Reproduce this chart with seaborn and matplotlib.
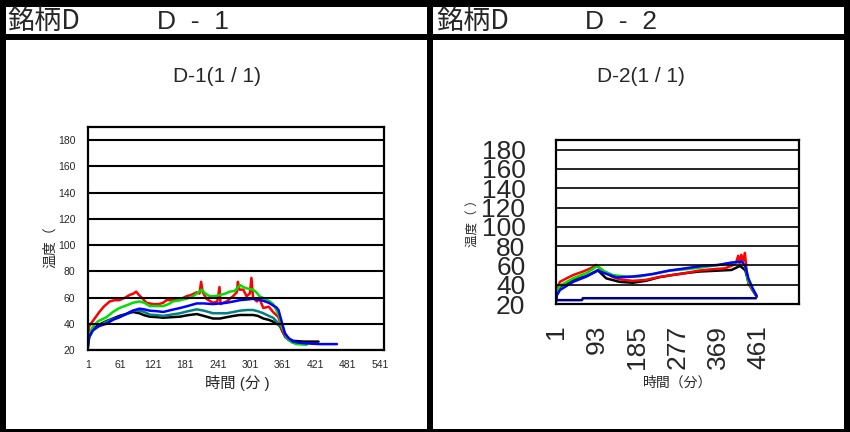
import pandas as pd
import matplotlib.pyplot as plt
import matplotlib.patches as mpatches
import seaborn as sns

# ---- D-1 readings (time in minutes, temperature) ----
d1_red_t = [1, 3, 8, 15, 22, 30, 41, 50, 59, 70, 78, 85, 90, 95, 100, 109, 121, 132, 140, 146,
            160, 171, 178, 183, 192, 202, 207, 210, 213, 220, 232, 240, 244, 246, 257, 269, 276, 278, 281, 288,
            294, 300, 303, 306, 313, 318, 325, 335, 343, 353, 359, 365, 372, 380, 390, 400]
d1_red_v = [30, 38, 41, 45, 49, 53, 57, 58, 58, 60, 62, 63, 64.5, 62, 60, 56, 55, 55, 56, 58,
            58, 58, 60, 61, 62, 64, 63, 72, 64, 59, 56, 57, 68, 55, 57, 61, 64, 72, 66, 66,
            61, 63, 75, 60, 57, 59, 52, 53, 49, 45, 36, 31, 28, 26, 25, 24.5]

d1_green_t = [1, 4, 10, 20, 35, 47, 59, 72, 84, 96, 105, 115, 130, 140, 150, 158, 170, 183, 195, 202,
              211, 218, 226, 235, 245, 255, 263, 272, 282, 288, 294, 306, 312, 318, 328, 337, 343, 349, 355, 359,
              368, 377, 386, 405]
d1_green_v = [25, 32, 38, 42, 45, 49, 52, 54, 56, 57, 56, 53.5, 53.5, 53.5, 55, 57, 58, 59, 61, 63,
              66, 63, 61, 61, 62, 63, 64.5, 65, 69.5, 68, 67, 66, 64, 61, 59, 57, 55, 50.5, 45, 38,
              30, 26, 24.5, 24]

d1_blue_t = [1, 3, 10, 20, 35, 47, 59, 72, 84, 96, 105, 115, 130, 140, 155, 171, 185, 202, 215, 232,
             245, 257, 270, 282, 295, 306, 315, 325, 335, 343, 349, 353, 359, 365, 372, 380, 392, 405, 430, 461]
d1_blue_v = [22, 30, 35, 38, 40, 43, 45, 47.5, 50, 51.5, 51, 50, 49.5, 49, 50.5, 52, 53.5, 55.5, 55.5, 55,
             55.5, 56, 57, 58, 58.5, 59, 58.5, 57.5, 56, 54, 52.5, 50.5, 41.5, 32.7, 29, 26.4, 25.5, 25, 24.5, 24.5]

d1_teal_t = [1, 3, 10, 20, 35, 47, 59, 72, 84, 96, 105, 115, 130, 140, 155, 171, 185, 202, 215, 232,
             245, 257, 270, 282, 295, 306, 315, 325, 335, 343, 349, 355, 359, 365, 372, 380, 392, 405]
d1_teal_v = [23, 29, 35, 38, 41.6, 43.5, 45, 47.5, 50, 50, 49, 47, 46.5, 46, 47, 48, 49.5, 51, 50, 48,
             48, 48, 49, 50, 50.5, 50.5, 49.5, 48, 46, 44.6, 42, 38, 36.5, 30, 27.5, 25.6, 25, 24.5]

d1_black_t = [1, 3, 10, 20, 35, 47, 59, 72, 84, 96, 105, 115, 130, 140, 155, 171, 185, 202, 215, 232,
              245, 257, 270, 282, 295, 306, 315, 325, 335, 343, 349, 355, 362, 370, 380, 400, 427]
d1_black_v = [27, 31, 36, 39, 42, 44, 46, 47.5, 49, 48, 46.5, 45.4, 45, 44.6, 45, 45.4, 46.5, 47.4, 46, 44,
              44, 45, 46, 46.7, 46.7, 46.7, 46, 44, 43, 41.6, 40, 39, 32.7, 29, 27, 26.4, 26.4]

# ---- D-2 readings ----
d2_red_t = [1, 3, 10, 25, 40, 62, 80, 92, 100, 115, 130, 145, 175, 205, 235, 265, 295, 325, 355, 385,
            404, 410, 415, 418, 422, 426, 430, 434, 438, 445, 453, 457]
d2_red_v = [31, 36, 43, 46.6, 50, 53.6, 57, 60.5, 57, 52, 48, 45.6, 44, 45, 48, 50, 52, 54.6, 56, 57,
            60.5, 63, 70, 62, 71, 64, 73, 55, 41, 36, 31, 27.6]

d2_green_t = [1, 3, 10, 40, 70, 96, 108, 130, 160, 190, 220, 258, 295, 333, 370, 408, 423, 431, 438, 448, 457]
d2_green_v = [28, 33, 39, 46.6, 52, 59.5, 54.6, 50, 48.4, 48.4, 51, 54.6, 56, 58, 60.5, 63, 64, 58.8, 43, 35, 28.3]

d2_blue_t = [1, 3, 10, 40, 70, 96, 108, 138, 175, 220, 258, 295, 333, 370, 400, 423, 431, 438, 448, 457]
d2_blue_v = [22, 29, 34.5, 43, 48.4, 54.6, 52.5, 47.6, 48.4, 51, 54.6, 57, 59.5, 60.5, 63, 64, 59, 46.6, 36, 28.3]

d2_black_t = [1, 3, 10, 40, 70, 96, 115, 145, 175, 205, 235, 265, 295, 325, 370, 400, 419, 431, 438, 448, 457]
d2_black_v = [25, 30, 38, 45, 49, 55, 46.6, 43, 42, 44, 47.7, 50, 52, 53.6, 54.6, 55.3, 59.5, 55, 43, 34, 27.6]

d2_navy_t = [1, 60, 62, 200, 350, 455]
d2_navy_v = [24, 24, 26, 26, 26, 26]

y_ticks = [20, 40, 60, 80, 100, 120, 140, 160, 180]
d1_xticks = [1, 61, 121, 181, 241, 301, 361, 421, 481, 541]
d2_xlabels = [1, 93, 185, 277, 369, 461]
d2_xmarks = [61, 121, 181, 241, 301, 361, 421, 481, 541]

colors = {"red": "#ff0000", "green": "#00e000", "blue": "#0000ff",
          "teal": "#008080", "black": "#000000", "navy": "#000080"}


def long_frame(parts):
    frames = []
    for name, t, v in parts:
        frames.append(pd.DataFrame({"time": t, "temp": v, "sensor": name}))
    return pd.concat(frames, ignore_index=True)


df1 = long_frame([("black", d1_black_t, d1_black_v), ("teal", d1_teal_t, d1_teal_v),
                  ("red", d1_red_t, d1_red_v), ("green", d1_green_t, d1_green_v),
                  ("blue", d1_blue_t, d1_blue_v)])
df2 = long_frame([("navy", d2_navy_t, d2_navy_v), ("black", d2_black_t, d2_black_v),
                  ("red", d2_red_t, d2_red_v), ("green", d2_green_t, d2_green_v),
                  ("blue", d2_blue_t, d2_blue_v)])

sns.set_style("white")
plt.rcParams['font.family'] = ['Liberation Sans', 'Noto Sans CJK JP', 'DejaVu Sans']

W, H = 850, 432
fig = plt.figure(figsize=(8.5, 4.32), dpi=100)


def box(x0, y0, x1, y1):
    # pixel box (top-left origin) -> figure rectangle
    fig.add_artist(mpatches.Rectangle((x0 / W, 1 - y1 / H), (x1 - x0) / W, (y1 - y0) / H,
                                      transform=fig.transFigure, color="black", lw=0))


def axes_px(x0, y0, x1, y1):
    return fig.add_axes([x0 / W, 1 - y1 / H, (x1 - x0) / W, (y1 - y0) / H])


# frame borders
box(0, 0, 850, 7)
box(0, 34, 850, 40)
box(0, 0, 6, 432)
box(427, 0, 433, 432)
box(844, 0, 850, 432)
box(0, 429, 850, 432)

cjk = ['Noto Sans CJK JP', 'Liberation Sans']
fig.text(7 / W, 1 - 22 / H, "銘柄D", family=cjk, fontsize=19.5, va="center")
fig.text(157 / W, 1 - 22 / H, "D  -  1", fontsize=19, va="center")
fig.text(436 / W, 1 - 22 / H, "銘柄D", family=cjk, fontsize=19.5, va="center")
fig.text(585 / W, 1 - 22 / H, "D  -  2", fontsize=19, va="center")

fig.text(217 / W, 1 - 76 / H, "D-1(1 / 1)", fontsize=15, ha="center", va="center")
fig.text(641 / W, 1 - 76 / H, "D-2(1 / 1)", fontsize=15, ha="center", va="center")

# ---- left chart ----
ax1 = axes_px(88, 127, 384, 350)
sns.lineplot(data=df1, x="time", y="temp", hue="sensor", palette=colors,
             hue_order=["black", "teal", "red", "green", "blue"],
             estimator=None, sort=False, legend=False, lw=1.8, ax=ax1)
ax1.set_xlim(1, 548)
ax1.set_ylim(20, 190)
ax1.set_yticks(y_ticks)
ax1.set_xticks(d1_xticks)
ax1.set_xticklabels([str(v) for v in d1_xticks])
ax1.tick_params(axis="x", direction="in", length=4, width=1.5, labelsize=7.5, pad=7)
ax1.tick_params(axis="y", length=0, labelsize=7.5, pad=9)
ax1.grid(axis="y", color="black", lw=1.5)
ax1.set_axisbelow(False)
for s in ax1.spines.values():
    s.set_color("black")
    s.set_linewidth(1.6)
ax1.set_xlabel("")
ax1.set_ylabel("")
fig.text(237 / W, 1 - 383 / H, "時間 (分 )", fontsize=11, ha="center", va="center")
fig.text(50 / W, 1 - 247 / H, "温度（", fontsize=10, ha="center", va="center", rotation=90)

# ---- right chart ----
ax2 = axes_px(556, 140, 799, 304)
sns.lineplot(data=df2, x="time", y="temp", hue="sensor", palette=colors,
             hue_order=["navy", "black", "red", "green", "blue"],
             estimator=None, sort=False, legend=False, lw=1.8, ax=ax2)
ax2.set_xlim(1, 553)
ax2.set_ylim(20, 190)
ax2.set_yticks(y_ticks)
ax2.set_xticks(d2_xlabels)
ax2.set_xticklabels([str(v) for v in d2_xlabels], rotation=90)
ax2.set_xticks(d2_xmarks, minor=True)
ax2.tick_params(axis="x", which="major", length=0, labelsize=19, pad=15)
ax2.tick_params(axis="x", which="minor", direction="in", length=7, width=1.5)
ax2.tick_params(axis="y", length=0, labelsize=19, pad=22)
ax2.grid(axis="y", color="black", lw=1.2)
ax2.set_axisbelow(False)
for s in ax2.spines.values():
    s.set_color("black")
    s.set_linewidth(1.6)
ax2.set_xlabel("")
ax2.set_ylabel("")
fig.text(678 / W, 1 - 383 / H, "時間（分）", fontsize=10, ha="center", va="center")
fig.text(474 / W, 1 - 220 / H, "温度（ ）", fontsize=9, ha="center", va="center", rotation=90)

plt.savefig("out.png", dpi=100)
plt.close()
